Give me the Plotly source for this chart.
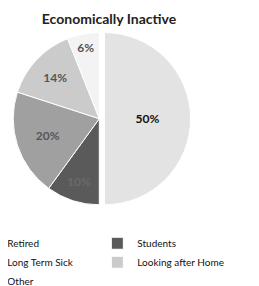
import plotly.graph_objects as go

categories = ["Retired", "Students", "Long Term Sick", "Looking after Home", "Other"]
values = [50, 10, 20, 14, 6]
colors = ["#e3e3e3", "#5a5a5a", "#a0a0a0", "#cbcbcb", "#f3f3f3"]
text_colors = ["#111111", "#6a6a6a", "#555555", "#555555", "#555555"]
pulls = [0.06, 0, 0, 0, 0]

fig = go.Figure(go.Pie(
    labels=categories,
    values=values,
    sort=False,
    direction="clockwise",
    rotation=0,
    pull=pulls,
    marker=dict(colors=colors, line=dict(color="white", width=1)),
    textinfo="percent",
    texttemplate="<b>%{percent:.0%}</b>",
    textposition="inside",
    insidetextorientation="horizontal",
    textfont=dict(family="Lato", size=12, color=text_colors),
    domain=dict(x=[0.0, 0.705], y=[0.065, 0.910]),
    hoverinfo="label+percent",
))

fig.update_layout(
    width=259, height=286,
    margin=dict(l=0, r=0, t=0, b=70, autoexpand=False),
    paper_bgcolor="white",
    plot_bgcolor="white",
    title=dict(text="<b>Economically Inactive</b>", x=0.39, xanchor="center",
               y=0.962, yanchor="middle",
               font=dict(family="Lato", size=14, color="#222222")),
    showlegend=True,
    legend=dict(orientation="h", x=-0.157, xanchor="left", y=-0.022, yanchor="top",
                entrywidth=85, entrywidthmode="pixels",
                font=dict(family="Lato", size=10, color="#111111"),
                bgcolor="rgba(0,0,0,0)", traceorder="normal",
                itemclick=False),
)

fig.write_html("out.html")
